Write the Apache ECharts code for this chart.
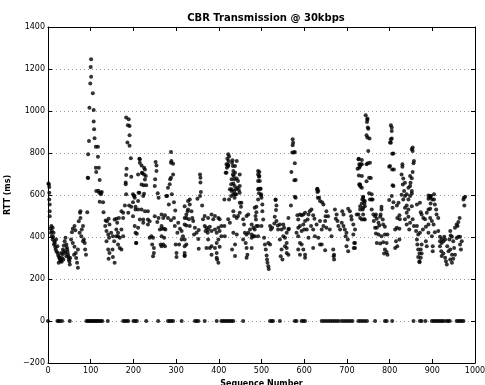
<!DOCTYPE html>
<html>
<head>
<meta charset="utf-8">
<title>CBR Transmission @ 30kbps</title>
<script src="https://cdn.jsdelivr.net/npm/echarts@6/dist/echarts.min.js"></script>
<style>
  html, body { margin: 0; padding: 0; background: #fff; }
  #chart { width: 485px; height: 385px; }
</style>
</head>
<body>
<div id="chart"></div>
<script>
// Round-trip time per packet, [sequence number, RTT in ms], grouped by hundreds.
const rtt000 = [
  [1,655],[2,651],[3,638],[3,611],[3,579],[4,555],[4,523],[4,499],
  [6,440],[7,420],[8,452],[11,444],[9,428],[13,420],[9,404],[11,388],[12,400],[15,380],[14,364],
  [16,372],[17,352],[19,388],[22,356],[18,340],[20,330],[23,324],[24,312],[26,305],[27,296],[28,300],
  [29,285],[25,277],[30,290],[32,282],[31,324],[33,300],[34,318],[35,340],[37,359],[38,332],[39,380],
  [41,396],[43,364],[44,350],[45,340],[46,328],[47,316],[48,305],[49,293],[50,285],[51,269],[52,300],
  [40,324],[43,308],[36,293],
  [56,423],[58,439],[62,452],[64,432],[54,388],[58,372],[62,353],[65,324],[66,300],[68,277],[70,253],
  [61,316],[70,340],[72,475],[75,515],[76,523],[76,491],[79,436],[82,452],[84,388],[82,380],[86,372],
  [87,340],[89,316],[78,404],[74,420],[92,518],
  [93,682],[94,794],[94,681],[96,857],[97,1016],[99,1131],[100,1210],[101,1247],[101,1163]
];
const rtt100 = [
  [105,1085],[107,1005],[107,950],[108,913],[109,870],[112,830],[117,830],[117,782],[112,730],[119,730],
  [113,709],[121,671],[113,619],[123,611],[126,614],[129,566],[121,568],[130,518],[124,603],[120,611],
  [118,620],
  [135,479],[138,475],[134,452],[142,487],[144,460],[137,428],[141,412],[143,396],[137,380],[141,340],
  [144,324],[142,296],[148,420],[152,404],[155,380],[151,340],[152,305],[156,277],[156,483],[160,487],
  [162,468],[160,436],[164,404],[164,420],[160,404],[168,396],[176,404],[164,364],[168,348],[172,340],
  [172,436],[166,491],[176,491],[172,523],[176,515],
  [180,550],[190,550],[195,544],[199,566],[188,515],[199,499],
  [183,969],[189,961],[187,932],[191,929],[191,884],[186,850],[191,834],[194,775],[195,687],[182,659],
  [183,695],[182,651],[183,603],[184,725],[199,603]
];
const rtt200 = [
  [203,587],[203,452],[205,420],[206,372],[207,372],[208,415],[205,531],[211,531],[205,544],[211,571],
  [211,444],
  [214,773],[215,754],[219,741],[220,706],[221,703],[225,698],[227,722],[229,690],[224,647],[230,647],
  [225,606],[214,611],[201,598],[202,595],[215,770],[225,730],[211,698],[227,674],[219,650],[212,611],
  [223,595],
  [252,757],[254,741],[254,714],[251,675],[250,643],[257,608],[259,587],
  [281,635],[285,651],[286,675],[288,805],[289,762],[293,749],[288,754],[293,698],[288,682],[290,603],
  [295,566],[283,555],[298,526],[279,595],[277,595],
  [215,483],[223,483],[219,531],[227,523],[234,523],[234,483],[223,468],[234,460],[238,475],[242,404],
  [238,396],[246,396],[244,364],[248,348],[248,324],[246,308],[250,499],[259,491],[266,507],[270,491],
  [274,503],[256,471],[266,452],[262,436],[267,439],[272,439],[275,436],[266,404],[272,396],[264,364],
  [270,364],[266,356],[274,356],[281,491],[288,480],[295,491],[297,452],[299,364]
];
const rtt300 = [
  [301,324],[301,305],[305,468],[309,439],[313,428],[303,420],[316,404],[320,460],[324,491],[327,523],
  [320,547],[307,364],[313,388],[320,356],[320,312],
  [328,571],[332,555],[328,531],[336,523],[324,507],[320,491],[330,484],[338,491],[340,476],[324,455],
  [332,452],[344,444],[348,420],[353,433],[342,412],[352,391],[320,388],[324,364],[320,324],[320,309],
  [353,344],
  [356,698],[357,682],[357,659],[356,595],[361,550],[358,614],[332,579],[350,582],
  [363,484],[367,500],[375,491],[383,507],[391,500],[387,484],[399,491],[367,452],[371,444],[375,436],
  [379,449],[383,428],[369,428],[374,420],[391,436],[399,444],[395,420],[371,348],[375,388],[379,348],
  [383,356],[391,348],[395,372],[399,388],[383,316],[395,324],[395,301],[399,277],[396,293]
];
const rtt400 = [
  [402,484],[402,428],[406,404],[406,452],[413,452],[414,404],[402,353],[422,484],[426,468],[434,523],
  [436,500],[442,491],[445,500],[449,515],[453,563],[457,484],[459,460],[465,500],[469,507],[461,420],
  [469,420],[473,436],[477,460],[477,412],[481,444],[484,436],[488,452],[486,500],[488,544],[484,539],
  [465,412],[463,372],[465,348],[467,316],[465,301],[457,388],[477,396],[481,404],[477,348],[492,404],
  [434,420],[438,364],[431,340],[438,309],[442,412],
  [422,794],[420,773],[418,746],[422,738],[442,762],[438,738],[416,706],[438,706],[430,675],[442,678],
  [445,667],[430,627],[436,619],[444,635],[447,624],[434,603],[438,603],[413,579],[449,563],[452,544],
  [424,783],[423,762],[421,746],[419,730],[422,741],[418,706],[432,765],[431,754],[433,738],[434,714],
  [433,698],[435,690],[437,675],[434,655],[429,651],[426,627],[430,619],[429,595],[437,643],[440,627],
  [441,603],[437,587],[424,579],
  [449,698],[449,643],[449,611],
  [492,714],[492,698],[492,667],[492,627],[494,608],[495,709],[495,690],[496,667],[494,630],[497,630],
  [499,598],[494,687],[498,630],[499,603],[492,579],[488,518],[487,483],[492,452],[484,404]
];
const rtt500 = [
  [500,587],[502,555],[502,523],[504,483],[500,452],[506,396],[508,364],[510,340],[512,312],[513,293],
  [514,277],[516,261],[517,248],[516,372],[520,364],
  [533,576],[535,550],[534,528],[531,496],[535,476],[530,464],[520,452],[525,444],[522,436],[539,436],
  [538,455],[543,460],[551,460],[547,436],[553,444],[563,436],[559,420],[551,404],[555,396],[543,388],
  [559,372],[555,356],[559,348],[547,340],[545,308],[559,324],[563,316],[549,293],[563,491],[564,439],
  [533,579],
  [573,865],[574,849],[573,837],[572,802],[576,802],[578,751],[570,709],[580,671],[580,587],[569,550],
  [578,805],[577,670],[578,592],
  [584,503],[590,507],[586,483],[594,503],[598,507],[602,515],[602,476],[598,460],[590,452],[586,444],
  [582,420],[586,404],[594,428],[600,436],[590,372],[594,364],[586,340],[598,340],[602,316],[602,301],
  [590,316]
];
const rtt600 = [
  [606,436],[608,483],[610,507],[613,523],[617,531],[621,503],[624,487],[610,396],[616,452],[621,436],
  [629,460],[637,476],[625,404],[633,396],[621,348],[637,364],[641,364],[649,337],[641,436],[645,452],
  [652,444],[649,476],[656,499],[652,523],[650,499],[660,436],[664,404],[668,340],[670,316],[669,308],
  [670,293],
  [631,630],[633,619],[635,587],[637,571],[642,566],[645,555],[630,627],[631,614],[632,587],
  [672,531],[676,507],[674,487],[678,476],[680,452],[684,436],[689,523],[692,507],[688,468],[692,452],
  [695,436],[699,420],[697,404],[699,356]
];
const rtt700 = [
  [702,388],[703,534],[707,523],[710,499],[711,483],[715,460],[719,436],[715,412],[717,372],[716,348],
  [703,332],[719,372],[719,348],[723,507],[727,507],[731,531],[735,483],[738,539],[741,560],[736,579],
  [727,770],[731,738],[725,725],[735,746],[731,650],[735,635],[738,587],[742,571],[742,483],
  [728,773],[729,746],[729,730],[728,693],[729,651],[730,646],
  [744,980],[748,964],[747,948],[749,921],[746,884],[748,874],[750,810],[746,746],[749,751],[752,682],
  [752,608],[758,579],[748,958],[750,916],[753,869],[754,754],[735,767],[732,746],[735,690],[732,639],
  [756,681],[746,666],[758,603],[754,579],[760,579],[758,531],[762,507],[766,499],[763,476],[768,507],
  [770,487],[774,468],[778,496],[776,455],[781,544],[781,531],[779,507],[784,483],[785,460],[789,449],
  [770,444],[766,444],[768,417],[774,412],[781,404],[789,412],[795,412],[770,372],[778,369],[785,375],
  [793,372],[789,340],[787,321],[793,328],[795,316],[738,592],[740,571],[742,547],[737,531],[738,507],
  [740,484],[731,491],[731,547],[735,560],
  [799,735],[799,576]
];
const rtt800 = [
  [803,932],[805,921],[805,905],[803,865],[801,850],[806,797],[801,738],[806,722],[807,646],[805,595],
  [805,869],[803,849],[809,798],[810,722],[809,643],[809,566],[807,539],[817,550],[821,563],[818,491],
  [823,503],[824,484],[813,436],[817,444],[823,439],[815,380],[823,388],[818,356],[813,348],
  [830,746],[830,735],[828,698],[832,678],[831,650],[836,658],[834,619],[836,595],[832,579],[840,603],
  [844,635],[848,643],[849,658],[852,619],[844,579],[840,550],[836,539],[844,531],[852,547],[857,762],
  [856,751],[854,810],[854,826],[852,818],[854,709],[848,690],[848,595],[840,515],[844,496],[836,484],
  [840,460],[848,468],[854,484],[846,436],[857,452],[852,680],[852,607],[828,601],
  [864,555],[871,563],[873,518],[864,452],[862,428],[867,412],[864,388],[865,364],[867,340],[870,321],
  [867,305],[870,280],
  [875,507],[879,491],[883,484],[887,515],[891,531],[895,534],[896,560],[891,598],[891,582],[895,587],
  [895,491],[899,476],[891,460],[885,449],[878,436],[871,420],[891,420],[899,404],[875,364],[873,340],
  [875,321],[873,301],[870,285],[885,380],[887,356],[895,595],[897,595]
];
const rtt900 = [
  [900,579],[904,603],[904,579],[906,555],[909,531],[910,507],[914,491],[903,460],[901,356],[901,332],
  [906,423],[914,428],[918,401],[922,391],[926,380],[922,372],[918,380],[918,356],[921,332],[922,309],
  [926,321],[930,301],[932,285],[934,269],[938,332],[940,388],[935,356],[942,428],[943,407],[946,401],
  [949,380],[942,340],[946,316],[942,293],[946,277],[949,296],[953,316],[951,348],[957,395],[961,401],
  [965,401],[953,444],[957,460],[961,471],[964,491],[959,452],[965,364],[967,340],[969,380],[973,579],
  [977,592],[975,550],[974,587],[928,401],[930,388]
];

// Sequence numbers of packets that never came back (plotted at RTT = 0).
const lostSeq = [
  0, 22, 25, 28, 33, 51,
  90, 93, 96, 99, 102, 105, 108, 111, 114, 117, 120, 124, 127, 140,
  176, 180, 184, 188, 200, 204, 208, 230, 258, 281, 285, 289, 293, 313,
  344, 348, 352, 367, 395, 406, 410, 414, 418, 422, 426, 430, 434, 457,
  520, 524, 527, 543, 578, 582, 594, 598, 602,
  641, 646, 651, 656, 661, 666, 671, 676, 681, 688, 693, 698, 703, 708, 713,
  727, 732, 737, 742, 747, 766, 789, 793, 806, 856, 871, 875, 884,
  899, 903, 907, 911, 915, 919, 923, 927, 933, 937, 941, 957, 961, 965, 969, 973
];

const xTicks = { min: 0, max: 1000, step: 100 };
const yTicks = { min: -200, max: 1400, step: 200 };

const samples = [].concat(rtt000, rtt100, rtt200, rtt300, rtt400,
                          rtt500, rtt600, rtt700, rtt800, rtt900);
const lost = lostSeq.map(s => [s, 0]);

const FONT = 'DejaVu Sans';
const INK = '#000';
const DOT = 4;

const chart = echarts.init(document.getElementById('chart'), null, { renderer: 'canvas' });

const boxLine = { show: true, onZero: false, lineStyle: { color: INK, width: 1 } };
const innerTick = { show: true, inside: true, length: 4, lineStyle: { color: INK, width: 1 } };
// plain integers, with a typographic minus for negatives
const plainNumber = v => String(v).replace('-', '\u2212');

chart.setOption({
  animation: false,
  backgroundColor: '#fff',
  title: {
    text: 'CBR Transmission @ 30kbps',
    left: 261, textAlign: 'center', top: 8,
    textStyle: { fontFamily: FONT, fontSize: 10, fontWeight: 'bold', color: INK }
  },
  grid: { left: 48, right: 10, top: 27, bottom: 22, outerBoundsMode: 'none' },
  xAxis: [
    {
      type: 'value', position: 'bottom',
      min: xTicks.min, max: xTicks.max, interval: xTicks.step,
      name: 'Sequence Number', nameLocation: 'middle', nameGap: 13,
      nameTextStyle: { fontFamily: FONT, fontSize: 8, fontWeight: 'bold', color: INK },
      axisLine: boxLine, axisTick: innerTick,
      axisLabel: { fontFamily: FONT, fontSize: 8, color: INK, margin: 4, formatter: plainNumber },
      splitLine: { show: false }
    },
    {
      type: 'value', position: 'top',
      min: xTicks.min, max: xTicks.max, interval: xTicks.step,
      axisLine: boxLine, axisTick: innerTick,
      axisLabel: { show: false }, splitLine: { show: false }
    }
  ],
  yAxis: [
    {
      type: 'value', position: 'left',
      min: yTicks.min, max: yTicks.max, interval: yTicks.step,
      name: 'RTT (ms)', nameLocation: 'middle', nameGap: 28, nameRotate: 90,
      nameTextStyle: { fontFamily: FONT, fontSize: 8, fontWeight: 'bold', color: INK },
      axisLine: boxLine, axisTick: innerTick,
      axisLabel: { fontFamily: FONT, fontSize: 8, color: INK, margin: 3, formatter: plainNumber },
      splitLine: { show: true, lineStyle: { color: '#9a9a9a', type: [1, 3], width: 1 } }
    },
    {
      type: 'value', position: 'right',
      min: yTicks.min, max: yTicks.max, interval: yTicks.step,
      axisLine: boxLine, axisTick: innerTick,
      axisLabel: { show: false }, splitLine: { show: false }
    }
  ],
  series: [
    {
      name: 'RTT', type: 'scatter', xAxisIndex: 0, yAxisIndex: 0,
      symbol: 'circle', symbolSize: DOT,
      itemStyle: { color: INK },
      data: samples
    },
    {
      name: 'Lost', type: 'scatter', xAxisIndex: 0, yAxisIndex: 0,
      symbol: 'circle', symbolSize: DOT,
      itemStyle: { color: INK },
      data: lost
    }
  ]
});
</script>
</body>
</html>
